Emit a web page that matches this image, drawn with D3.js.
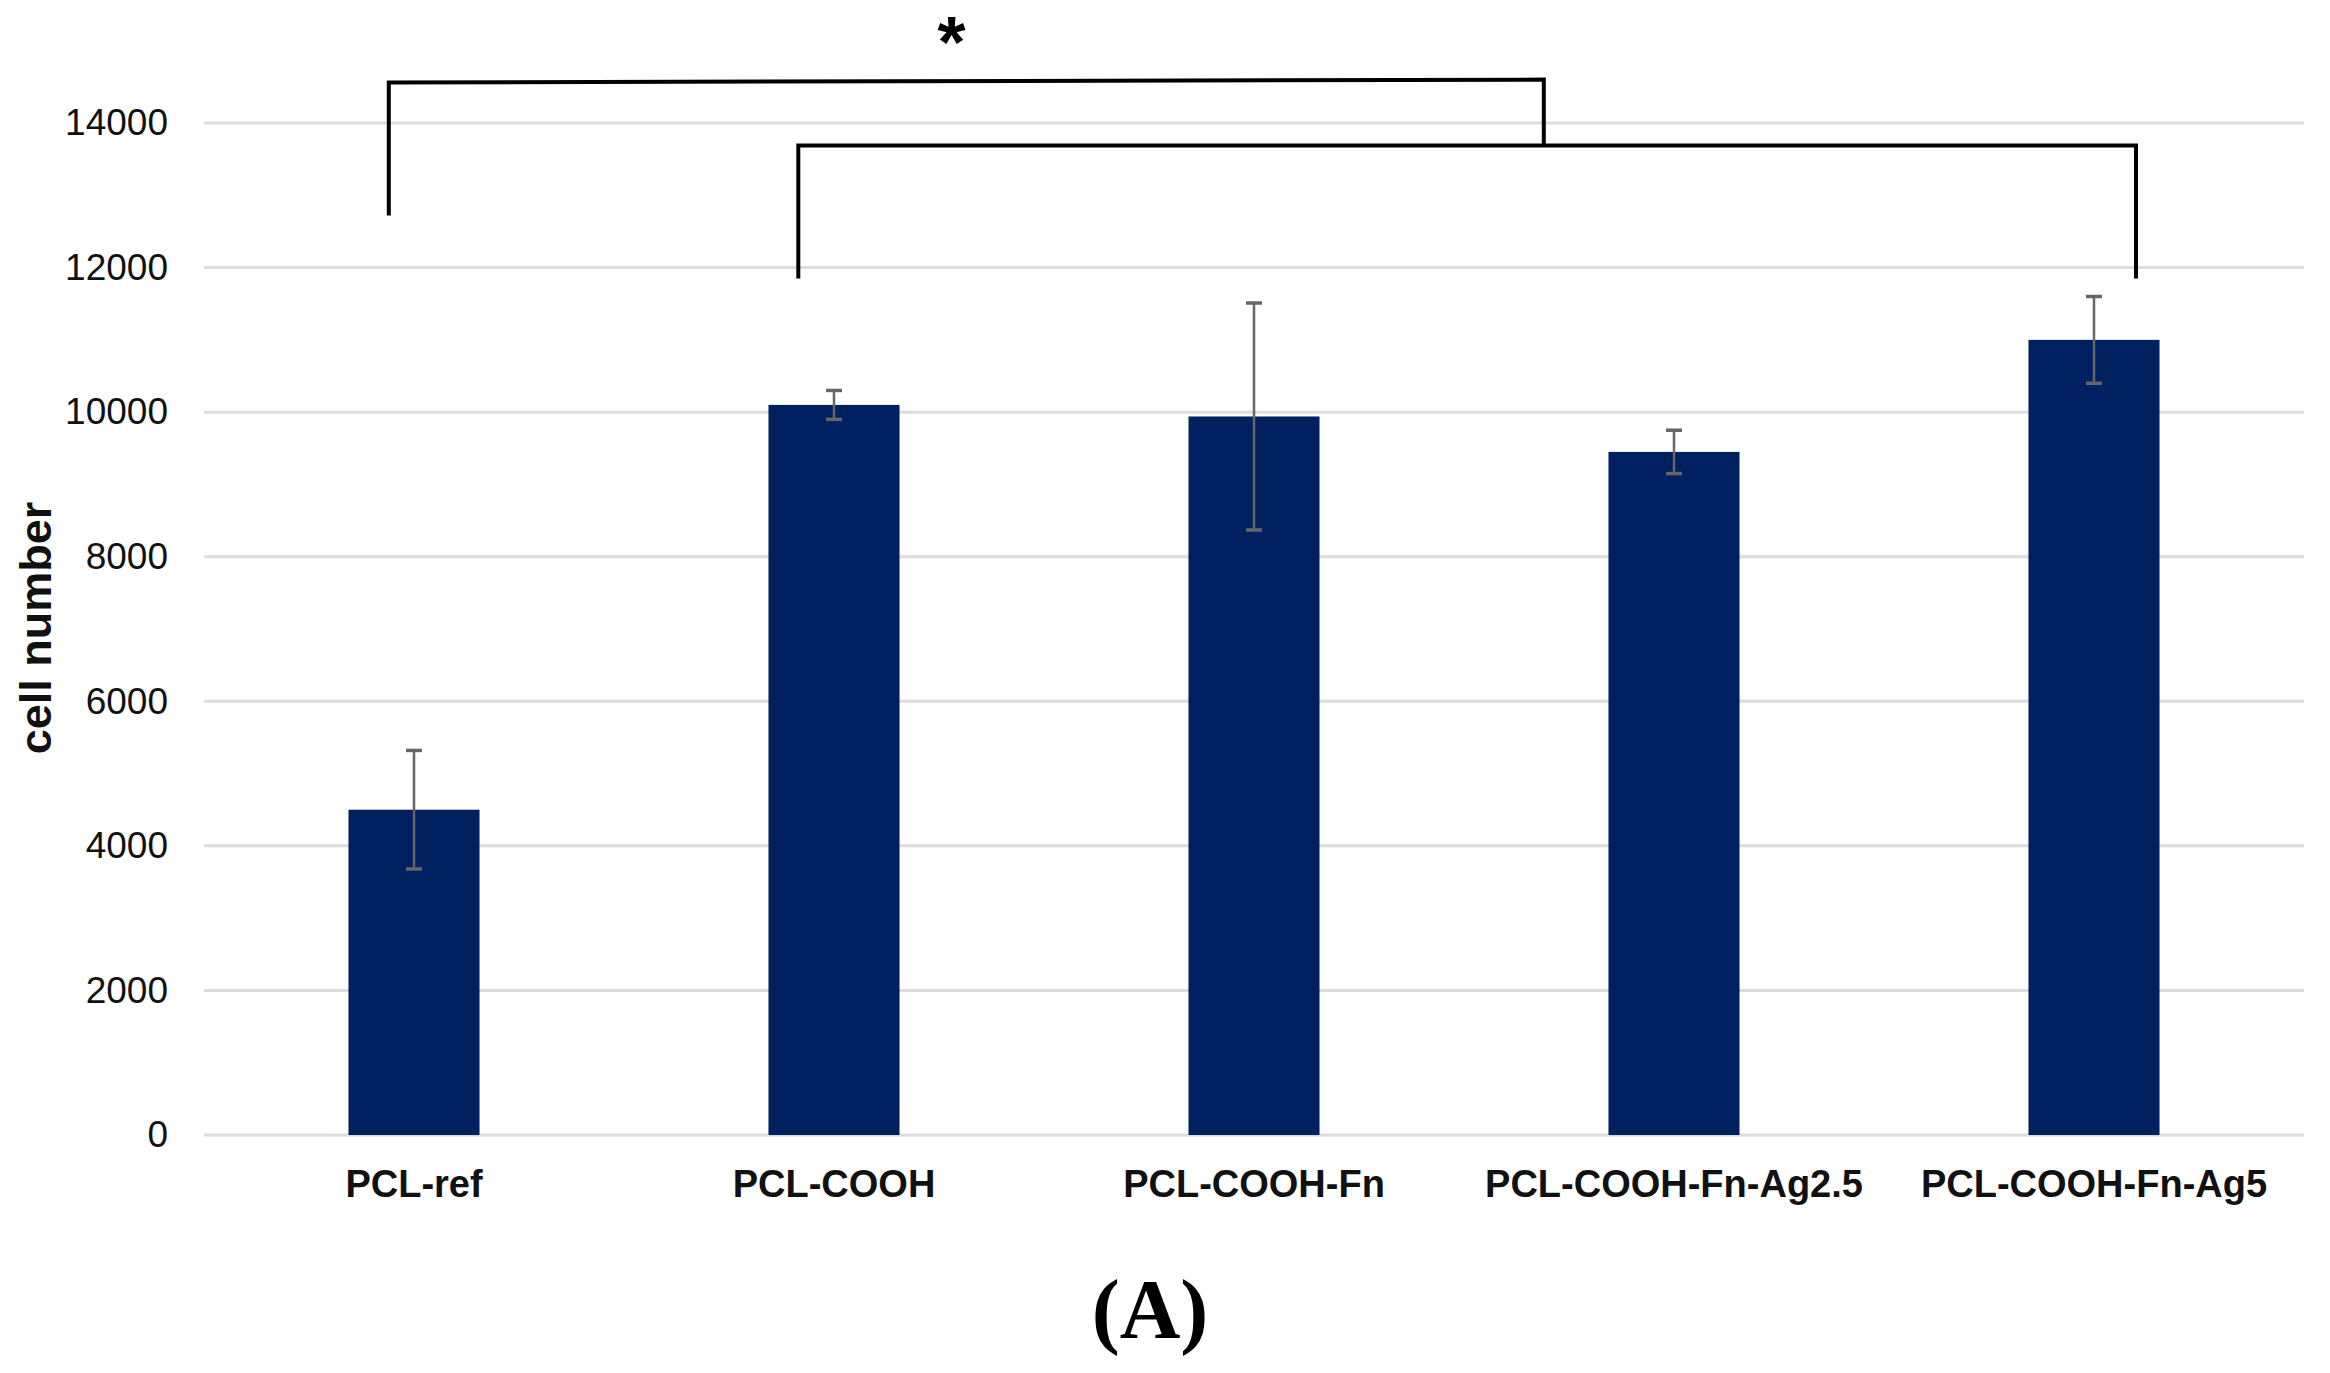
<!DOCTYPE html>
<html>
<head>
<meta charset="utf-8">
<script src="https://cdn.jsdelivr.net/npm/d3@7"></script>
<style>
  body { margin: 0; background: #fff; }
  svg { display: block; }
</style>
</head>
<body>
<div id="chart"></div>
<script>
// chart data
const groups = ["PCL-ref", "PCL-COOH", "PCL-COOH-Fn", "PCL-COOH-Fn-Ag2.5", "PCL-COOH-Fn-Ag5"]
const cellNumber = [4500, 10100, 9940, 9450, 11000]
const errorSD = [820, 200, 1570, 300, 600]
const yTicks = [0, 2000, 4000, 6000, 8000, 10000, 12000, 14000]

// significance brackets: x in category index units, y in cell number units
const bracketTop = [[-0.06, 12720], [-0.06, 14560], [2.69, 14600], [2.69, 13690]]
const bracketLow = [[0.915, 11850], [0.915, 13690], [4.1, 13690], [4.1, 11850]]
const starPos = [1.28, 14780]

const W = 2330, H = 1373
const margin = {top: 123, right: 26, bottom: 238, left: 204}
const plotW = W - margin.left - margin.right
const plotH = H - margin.top - margin.bottom

const svg = d3.select("#chart")
    .append("svg")
    .attr("width", W)
    .attr("height", H)

const g = svg.append("g")
    .attr("transform", "translate(" + margin.left + "," + margin.top + ")")

const x = d3.scaleBand()
    .domain(groups)
    .range([0, plotW])
    .padding(0)
const xIdx = d3.scaleLinear()
    .domain([-0.5, groups.length - 0.5])
    .range([0, plotW])
const y = d3.scaleLinear()
    .domain([0, 14000])
    .range([plotH, 0])

const barW = x.bandwidth() * 0.312

// gridlines
g.selectAll(".grid")
    .data(yTicks)
    .enter()
    .append("line")
    .attr("class", "grid")
    .attr("x1", 0)
    .attr("x2", plotW)
    .attr("y1", d => y(d))
    .attr("y2", d => y(d))
    .attr("stroke", "#dcdcdc")
    .attr("stroke-width", 3)

// y axis (labels only)
const yAxis = g.append("g")
    .call(d3.axisLeft(y).tickValues(yTicks).tickSize(0).tickPadding(36).tickFormat(d3.format("d")))
yAxis.select(".domain").remove()
yAxis.selectAll("text")
    .attr("font-family", "Liberation Sans, Arial, sans-serif")
    .attr("font-size", 37)
    .attr("fill", "#111")

// x axis (labels only)
const xAxis = g.append("g")
    .attr("transform", "translate(0," + plotH + ")")
    .call(d3.axisBottom(x).tickSize(0).tickPadding(35))
xAxis.select(".domain").remove()
xAxis.selectAll("text")
    .attr("font-family", "Liberation Sans, Arial, sans-serif")
    .attr("font-size", 38)
    .attr("font-weight", "bold")
    .attr("fill", "#111")

// bars
g.selectAll(".bar")
    .data(groups)
    .enter()
    .append("rect")
    .attr("class", "bar")
    .attr("x", d => x(d) + x.bandwidth() / 2 - barW / 2)
    .attr("width", barW)
    .attr("y", (d, i) => y(cellNumber[i]))
    .attr("height", (d, i) => y(0) - y(cellNumber[i]))
    .attr("fill", "#002060")

// error bars
const err = g.selectAll(".err")
    .data(groups)
    .enter()
    .append("g")
    .attr("class", "err")
    .attr("stroke", "#666")
    .attr("stroke-width", 2.5)
err.append("line")
    .attr("x1", d => x(d) + x.bandwidth() / 2)
    .attr("x2", d => x(d) + x.bandwidth() / 2)
    .attr("y1", (d, i) => y(cellNumber[i] + errorSD[i]))
    .attr("y2", (d, i) => y(cellNumber[i] - errorSD[i]))
err.selectAll(".cap")
    .data((d, i) => [[d, cellNumber[i] + errorSD[i]], [d, cellNumber[i] - errorSD[i]]])
    .enter()
    .append("line")
    .attr("x1", d => x(d[0]) + x.bandwidth() / 2 - 8)
    .attr("x2", d => x(d[0]) + x.bandwidth() / 2 + 8)
    .attr("y1", d => y(d[1]))
    .attr("y2", d => y(d[1]))
    .attr("stroke-width", 3.5)

// significance brackets
const line = d3.line().x(d => xIdx(d[0])).y(d => y(d[1]))
g.selectAll(".bracket")
    .data([bracketTop, bracketLow])
    .enter()
    .append("path")
    .attr("class", "bracket")
    .attr("d", line)
    .attr("fill", "none")
    .attr("stroke", "#000")
    .attr("stroke-width", 4)

g.append("text")
    .attr("x", xIdx(starPos[0]))
    .attr("y", y(starPos[1]))
    .attr("text-anchor", "middle")
    .attr("font-family", "Liberation Sans, Arial, sans-serif")
    .attr("font-weight", "bold")
    .attr("font-size", 72)
    .text("*")

// y axis title
svg.append("text")
    .attr("transform", "translate(51,628) rotate(-90)")
    .attr("text-anchor", "middle")
    .attr("font-family", "Liberation Sans, Arial, sans-serif")
    .attr("font-weight", "bold")
    .attr("font-size", 45)
    .attr("fill", "#111")
    .text("cell number")

// panel caption
svg.append("text")
    .attr("x", 1150)
    .attr("y", 1338)
    .attr("text-anchor", "middle")
    .attr("font-family", "Liberation Serif, Times New Roman, serif")
    .attr("font-weight", "bold")
    .attr("font-size", 84)
    .text("(A)")
</script>
</body>
</html>
